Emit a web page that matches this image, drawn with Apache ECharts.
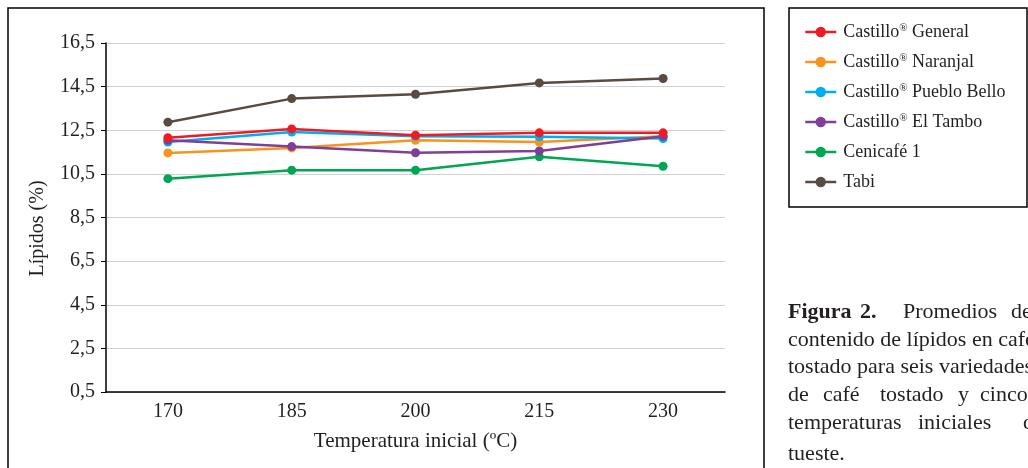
<!DOCTYPE html>
<html>
<head>
<meta charset="utf-8">
<script src="https://cdn.jsdelivr.net/npm/echarts@6/dist/echarts.min.js"></script>
<style>
  html, body { margin: 0; padding: 0; background: #fff; }
  #chart { width: 1028px; height: 468px; }
</style>
</head>
<body>
<div id="chart"></div>
<script>
// temperaturas iniciales de tueste
const temps = ["170", "185", "200", "215", "230"]
// lípidos (%) por variedad
const general = [12.16, 12.56, 12.27, 12.38, 12.38]
const naranjal = [11.46, 11.69, 12.04, 11.96, 12.22]
const puebloBello = [11.96, 12.42, 12.22, 12.2, 12.12]
const elTambo = [12.04, 11.75, 11.47, 11.55, 12.22]
const cenicafe = [10.28, 10.67, 10.67, 11.28, 10.85]
const tabi = [12.87, 13.95, 14.15, 14.67, 14.87]
const yTicks = [0.5, 2.5, 4.5, 6.5, 8.5, 10.5, 12.5, 14.5, 16.5]

const serif = "'Liberation Serif', 'DejaVu Serif', serif"
const ink = "#231f20"

function makeSeries(name, data, color, z) {
  return {
    name: name,
    type: "line",
    data: data,
    z: z,
    symbol: "circle",
    symbolSize: 9,
    lineStyle: { color: color, width: 2.5 },
    itemStyle: { color: color },
    emphasis: { disabled: true }
  }
}

// texto del pie de figura (líneas justificadas por palabra)
function txt(text, x, y, bold) {
  return {
    type: "text",
    x: x,
    y: y,
    silent: true,
    style: { text: text, font: (bold ? "bold " : "") + "22px " + serif, fill: ink, verticalAlign: "middle" }
  }
}

const chart = echarts.init(document.getElementById("chart"))
const option = {
  animation: false,
  grid: { left: 106, right: 303, top: 43, bottom: 76 },
  legend: {
    orient: "vertical",
    left: 799,
    top: 18,
    itemWidth: 31,
    itemHeight: 13,
    itemGap: 12,
    lineStyle: { width: 2.5 },
    textStyle: {
      fontFamily: serif,
      fontSize: 18,
      lineHeight: 18,
      color: ink,
      padding: [0, 0, 0, 2],
      rich: {
        sup: { fontFamily: serif, fontSize: 11, verticalAlign: "top", padding: [0, 0, 7, 0], color: ink }
      }
    },
    formatter: function (name) {
      return name.replace("®", "{sup|®}")
    },
    selectedMode: false
  },
  xAxis: {
    type: "category",
    data: temps,
    name: "Temperatura inicial (ºC)",
    nameLocation: "middle",
    nameGap: 39,
    nameTextStyle: { fontFamily: serif, fontSize: 21, color: ink },
    axisLine: { lineStyle: { color: "#000", width: 1.5 } },
    axisTick: { alignWithLabel: true, length: 5, lineStyle: { color: "#000" } },
    axisLabel: { fontFamily: serif, fontSize: 20, color: ink, margin: 10 }
  },
  yAxis: {
    type: "value",
    min: 0.5,
    max: 16.5,
    interval: 2,
    name: "Lípidos (%)",
    nameLocation: "middle",
    nameGap: 58,
    nameTextStyle: { fontFamily: serif, fontSize: 20, color: ink, padding: [0, 22, 0, 0] },
    axisLine: { show: true, lineStyle: { color: "#000", width: 1.5 } },
    axisTick: { show: true, length: 5, lineStyle: { color: "#000" }, customValues: yTicks },
    axisLabel: {
      fontFamily: serif,
      fontSize: 20,
      color: ink,
      margin: 11,
      customValues: yTicks,
      formatter: function (v) { return v.toFixed(1).replace(".", ",") }
    },
    splitLine: { show: true, lineStyle: { color: "#d0d0d0", width: 1.2 } }
  },
  graphic: [
    { type: "rect", shape: { x: 8, y: 8, width: 756, height: 480 }, style: { fill: "none", stroke: "#000", lineWidth: 1.5 }, silent: true },
    { type: "rect", shape: { x: 789, y: 8, width: 238, height: 199 }, style: { fill: "none", stroke: "#000", lineWidth: 1.5 }, silent: true },
    txt("Figura", 788, 312, true),
    txt("2.", 860, 312, true),
    txt("Promedios", 903, 312),
    txt("del", 1011, 312),
    txt("contenido de lípidos en café", 788, 340),
    txt("tostado para seis variedades", 788, 367),
    txt("de", 788, 395),
    txt("café", 823, 395),
    txt("tostado", 880, 395),
    txt("y", 958, 395),
    txt("cinco", 980, 395),
    txt("temperaturas", 788, 423),
    txt("iniciales", 918, 423),
    txt("de", 1023, 423),
    txt("tueste.", 788, 454)
  ],
  series: [
    makeSeries("Castillo® General", general, "#ed1c24", 8),
    makeSeries("Castillo® Naranjal", naranjal, "#f7941d", 4),
    makeSeries("Castillo® Pueblo Bello", puebloBello, "#00aeef", 5),
    makeSeries("Castillo® El Tambo", elTambo, "#7f3f98", 6),
    makeSeries("Cenicafé 1", cenicafe, "#00a651", 3),
    makeSeries("Tabi", tabi, "#594a42", 2)
  ]
}
chart.setOption(option)
</script>
</body>
</html>
